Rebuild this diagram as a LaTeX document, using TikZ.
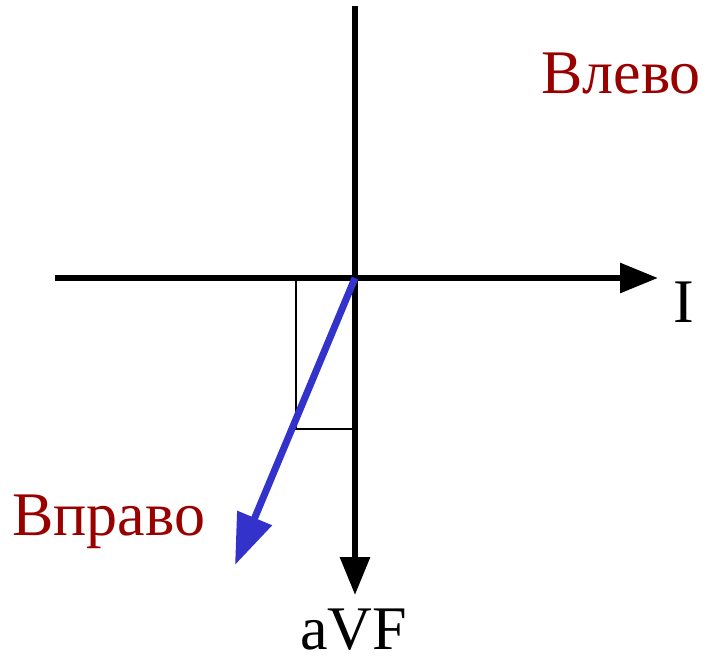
\documentclass[tikz,border=0pt]{standalone}
\usepackage{fontspec}
\setmainfont{Liberation Serif}
\usetikzlibrary{arrows.meta}
\definecolor{lblred}{HTML}{990000}
\definecolor{vecblue}{HTML}{3333CC}
\begin{document}
\begin{tikzpicture}[x=1pt,y=-1pt,
  axis/.style={line width=6pt,-{Triangle[length=38pt,width=29pt]}},
  vec/.style={line width=7pt,vecblue,-{Triangle[length=51pt,width=36pt]}},
  lbl/.style={anchor=base west,inner sep=0pt,font=\fontsize{62}{62}\selectfont},
  proj/.style={line width=1.5pt}]
\useasboundingbox (0,0) rectangle (710,659);
\coordinate (O) at (355,278);
\coordinate (top) at (355,6);
\coordinate (bottom) at (355,595);
\coordinate (left) at (55,278);
\coordinate (right) at (658,278);
\coordinate (tip) at (235,565);
\coordinate (pa) at (296,278);
\coordinate (pb) at (355,429);
\draw[proj] (pa) rectangle (pb);
\draw[axis] (top) -- (bottom);
\draw[axis] (left) -- (right);
\draw[vec] (O) -- (tip);
\node[lbl,text=lblred] (vlevo) at (541,93) {Влево};
\node[lbl,text=lblred] (vpravo) at (12,535) {Вправо};
\node[lbl] (lI) at (673,322) {I};
\node[lbl] (laVF) at (300,649) {aVF};
\end{tikzpicture}
\end{document}
